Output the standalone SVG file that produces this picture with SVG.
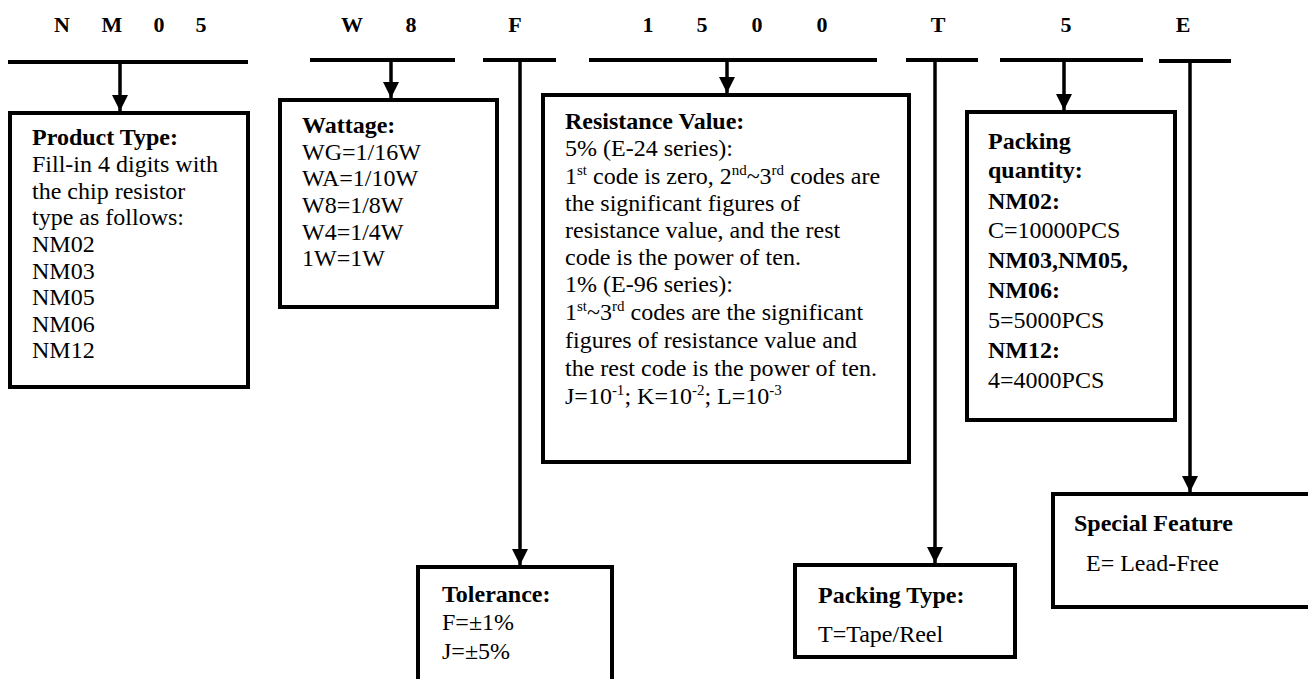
<svg xmlns="http://www.w3.org/2000/svg" width="1308" height="679" viewBox="0 0 1308 679">
<style>
text{font-family:"Liberation Serif","Times New Roman",serif;fill:#000}
.hd{font-size:22px;font-weight:bold;text-anchor:middle}
.t{font-size:24px}
.b{font-weight:bold}
.box{fill:#fff;stroke:#000;stroke-width:4}
.bar{stroke:#000;stroke-width:4;fill:none}
.ln{stroke:#000;stroke-width:3.5;fill:none}
.sup{font-size:15px}
</style>
<defs>
<marker id="ah" markerUnits="userSpaceOnUse" markerWidth="18" markerHeight="16" refX="16" refY="8" orient="auto">
<path d="M0,0 L16,8 L0,16 Z" fill="#000"/>
</marker>
</defs>
<rect width="1308" height="679" fill="#fff"/>
<g id="header">
<text class="hd" x="62" y="32">N</text>
<text class="hd" x="112" y="32">M</text>
<text class="hd" x="159" y="32">0</text>
<text class="hd" x="201" y="32">5</text>
<text class="hd" x="352" y="32">W</text>
<text class="hd" x="411" y="32">8</text>
<text class="hd" x="515" y="32">F</text>
<text class="hd" x="648" y="32">1</text>
<text class="hd" x="702" y="32">5</text>
<text class="hd" x="757" y="32">0</text>
<text class="hd" x="822" y="32">0</text>
<text class="hd" x="938" y="32">T</text>
<text class="hd" x="1066" y="32">5</text>
<text class="hd" x="1183" y="32">E</text>
</g>
<g id="product-type">
<rect class="box" x="10" y="113" width="238" height="274"/>
<text class="t" x="32" y="145"><tspan class="b">Product Type:</tspan><tspan x="32" y="172">Fill-in 4 digits with</tspan><tspan x="32" y="199">the chip resistor</tspan><tspan x="32" y="225">type as follows:</tspan><tspan x="32" y="252">NM02</tspan><tspan x="32" y="279">NM03</tspan><tspan x="32" y="305">NM05</tspan><tspan x="32" y="332">NM06</tspan><tspan x="32" y="358">NM12</tspan></text>
</g>
<g id="wattage">
<rect class="box" x="280" y="100" width="217" height="207"/>
<text class="t" x="302" y="133"><tspan class="b">Wattage:</tspan><tspan x="302" y="160">WG=1/16W</tspan><tspan x="302" y="186">WA=1/10W</tspan><tspan x="302" y="213">W8=1/8W</tspan><tspan x="302" y="240">W4=1/4W</tspan><tspan x="302" y="266">1W=1W</tspan></text>
</g>
<g id="resistance-value">
<rect class="box" x="543" y="95" width="366" height="367"/>
<text class="t" x="565" y="129"><tspan class="b">Resistance Value:</tspan></text>
<text class="t" x="565" y="156">5% (E-24 series):</text>
<text class="t" x="565" y="184">1<tspan class="sup" dy="-9">st</tspan><tspan dy="9"> code is zero, 2</tspan><tspan class="sup" dy="-9">nd</tspan><tspan dy="9">~3</tspan><tspan class="sup" dy="-9">rd</tspan><tspan dy="9"> codes are</tspan></text>
<text class="t" x="565" y="211">the significant figures of</text>
<text class="t" x="565" y="238">resistance value, and the rest</text>
<text class="t" x="565" y="265">code is the power of ten.</text>
<text class="t" x="565" y="292">1% (E-96 series):</text>
<text class="t" x="565" y="320">1<tspan class="sup" dy="-9">st</tspan><tspan dy="9">~3</tspan><tspan class="sup" dy="-9">rd</tspan><tspan dy="9"> codes are the significant</tspan></text>
<text class="t" x="565" y="348">figures of resistance value and</text>
<text class="t" x="565" y="376">the rest code is the power of ten.</text>
<text class="t" x="565" y="404">J=10<tspan class="sup" dy="-9">-1</tspan><tspan dy="9">; K=10</tspan><tspan class="sup" dy="-9">-2</tspan><tspan dy="9">; L=10</tspan><tspan class="sup" dy="-9">-3</tspan></text>
</g>
<g id="packing-quantity">
<rect class="box" x="967" y="112" width="208" height="308"/>
<text class="t" x="988" y="149"><tspan class="b">Packing</tspan><tspan class="b" x="988" y="178">quantity:</tspan><tspan class="b" x="988" y="209">NM02:</tspan><tspan x="988" y="238">C=10000PCS</tspan><tspan class="b" x="988" y="268">NM03,NM05,</tspan><tspan class="b" x="988" y="298">NM06:</tspan><tspan x="988" y="328">5=5000PCS</tspan><tspan class="b" x="988" y="358">NM12:</tspan><tspan x="988" y="388">4=4000PCS</tspan></text>
</g>
<g id="tolerance">
<rect class="box" x="418" y="567" width="194" height="120"/>
<text class="t" x="442" y="602"><tspan class="b">Tolerance:</tspan><tspan x="442" y="630">F=±1%</tspan><tspan x="442" y="659">J=±5%</tspan></text>
</g>
<g id="packing-type">
<rect class="box" x="795" y="565" width="220" height="92"/>
<text class="t" x="818" y="603"><tspan class="b">Packing Type:</tspan><tspan x="818" y="642">T=Tape/Reel</tspan></text>
</g>
<g id="special-feature">
<rect class="box" x="1053" y="494" width="265" height="113"/>
<text class="t" x="1074" y="531"><tspan class="b">Special Feature</tspan><tspan x="1086" y="571">E= Lead-Free</tspan></text>
</g>
<g id="connectors">
<line class="bar" x1="8" y1="62" x2="248" y2="62"/>
<line class="bar" x1="310" y1="60" x2="455" y2="60"/>
<line class="bar" x1="483" y1="60" x2="556" y2="60"/>
<line class="bar" x1="589" y1="60" x2="877" y2="60"/>
<line class="bar" x1="906" y1="60" x2="978" y2="60"/>
<line class="bar" x1="1000" y1="60" x2="1143" y2="60"/>
<line class="bar" x1="1159" y1="61" x2="1231" y2="61"/>
<line class="ln" x1="120" y1="62" x2="120" y2="111" marker-end="url(#ah)"/>
<line class="ln" x1="391" y1="60" x2="391" y2="98" marker-end="url(#ah)"/>
<line class="ln" x1="520" y1="60" x2="520" y2="565" marker-end="url(#ah)"/>
<line class="ln" x1="727" y1="60" x2="727" y2="93" marker-end="url(#ah)"/>
<line class="ln" x1="935" y1="60" x2="935" y2="563" marker-end="url(#ah)"/>
<line class="ln" x1="1064" y1="60" x2="1064" y2="110" marker-end="url(#ah)"/>
<line class="ln" x1="1190" y1="61" x2="1190" y2="492" marker-end="url(#ah)"/>
</g>
</svg>
